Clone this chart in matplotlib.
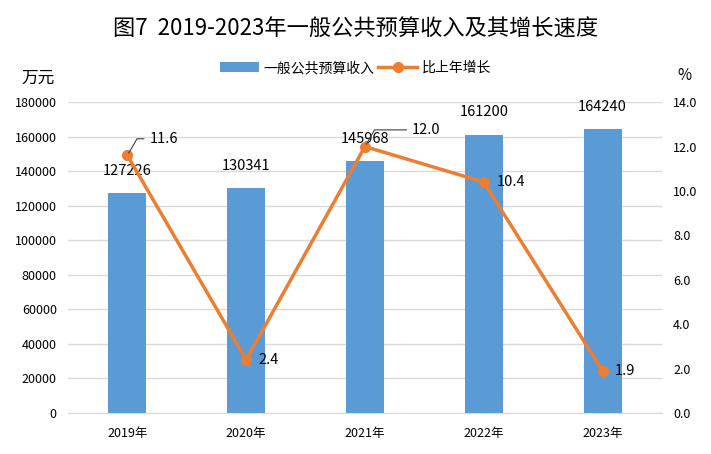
import numpy as np
import matplotlib
matplotlib.use('Agg')
import matplotlib.pyplot as plt

plt.rcParams['font.family'] = ['Noto Sans CJK SC', 'DejaVu Sans']

years = ['2019年', '2020年', '2021年', '2022年', '2023年']
revenue = [127226, 130341, 145968, 161200, 164240]
growth = [11.6, 2.4, 12.0, 10.4, 1.9]

bar_color = '#5B9BD5'
line_color = '#ED7D31'

fig = plt.figure(figsize=(7.11, 4.54), dpi=100)
ax = fig.add_axes([0.0956, 0.0903, 0.8354, 0.6847])
ax2 = ax.twinx()

x = np.arange(len(years))
bars = ax.bar(x, revenue, width=0.32, color=bar_color, label='一般公共预算收入', zorder=2)
ax.set_ylim(0, 180000)
ax.set_yticks(np.arange(0, 180001, 20000))
ax.set_xlim(-0.5, 4.5)
ax.set_xticks(x)
ax.set_xticklabels(years, fontsize=9)
ax.tick_params(axis='y', labelsize=9, length=0, pad=8)
ax.tick_params(axis='x', length=0, pad=10)
ax.grid(axis='y', color='#D9D9D9', linewidth=1, zorder=0)
for s in ['top', 'right', 'left']:
    ax.spines[s].set_visible(False)
ax.spines['bottom'].set_color('#D9D9D9')

for xi, v in zip(x, revenue):
    ax.annotate(str(v), (xi, v), xytext=(0, 11), textcoords='offset points',
                ha='center', va='bottom', fontsize=10.5)

ln, = ax2.plot(x, growth, color=line_color, linewidth=2.5, marker='o',
               markersize=7, label='比上年增长', zorder=3)
ax2.set_ylim(0, 14)
ax2.set_yticks(np.arange(0, 14.1, 2))
ax2.set_yticklabels([f'{t:.1f}' for t in np.arange(0, 14.1, 2)])
ax2.tick_params(axis='y', labelsize=9, length=0, pad=8)
for s in ax2.spines.values():
    s.set_visible(False)

# growth labels
offsets = [(16, 12), (9, 0), (34, 12), (9, 0), (9, 0)]
for i, (xi, g) in enumerate(zip(x, growth)):
    dx, dy = offsets[i]
    if i in (0, 2):
        ax2.annotate(f'{g:.1f}', (xi, g), xytext=(dx, dy), textcoords='offset points',
                     ha='left', va='center', fontsize=10.5,
                     arrowprops=dict(arrowstyle='-', color='#404040', lw=0.8,
                                     shrinkA=2, shrinkB=2,
                                     connectionstyle='angle,angleA=0,angleB=60,rad=0'))
    else:
        ax2.annotate(f'{g:.1f}', (xi, g), xytext=(dx, dy), textcoords='offset points',
                     ha='left', va='center', fontsize=10.5)

fig.text(0.5, 0.935, '图7  2019-2023年一般公共预算收入及其增长速度',
         ha='center', va='center', fontsize=16)
fig.text(0.053, 0.828, '万元', ha='center', va='center', fontsize=12)
fig.text(0.962, 0.833, '%', ha='center', va='center', fontsize=11)

fig.legend(handles=[bars, ln], loc='center', bbox_to_anchor=(0.5, 0.85),
           ncol=2, frameon=False, fontsize=10, handlelength=2.8,
           columnspacing=0.3, handletextpad=0.3)

fig.savefig('out.png', dpi=100)
